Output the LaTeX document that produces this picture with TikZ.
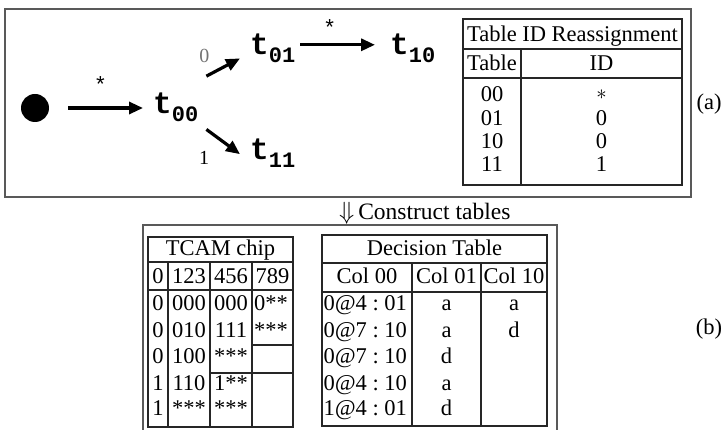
\documentclass[tikz,border=0pt]{standalone}
\usepackage{fontspec}
\setmainfont{Liberation Serif}
\newfontfamily\monofam{Liberation Mono}
\usetikzlibrary{arrows.meta}

% state label: bold typewriter t with a lowered bold index
\newcommand{\tstate}[1]{{\monofam\bfseries\fontsize{31}{33}\selectfont t}\raisebox{-8pt}{\monofam\bfseries\fontsize{22}{24}\selectfont #1}}

\begin{document}
\begin{tikzpicture}[x=1pt,y=-1pt,
  frame/.style={draw=black!65,line width=1.3pt},
  grid/.style={draw=black!85,line width=1.2pt},
  txt/.style={inner sep=0pt,anchor=base,font=\fontsize{22.5}{27}\selectfont},
  txtl/.style={txt,anchor=base west},
  arr/.style={line width=3.2pt,-{Triangle[length=14pt,width=12pt]}},
  star/.style={inner sep=0pt,font=\monofam\fontsize{22}{24}\selectfont},
  edgelbl/.style={inner sep=0pt,font=\fontsize{20}{24}\selectfont},
  tnode/.style={inner sep=0pt,anchor=base west}]
\useasboundingbox (0,0) rectangle (726,430);

% ---------- part (a): automaton ----------
\draw[frame] (5,9) rectangle (691,197);
\node[circle,fill=black,minimum size=28pt,inner sep=0pt] (dot) at (35,108) {};
\node[tnode] (t00) at (153,114) {\tstate{00}};
\node[tnode] (t01) at (250,55) {\tstate{01}};
\node[tnode] (t10) at (390,55) {\tstate{10}};
\node[tnode] (t11) at (250,160) {\tstate{11}};

\draw[arr] ([xshift=19pt]dot.east) -- ([xshift=-10pt]dot.east -| t00.west)
  node[star,pos=0.43,above=14pt] {*};
\draw[arr] ([shift={(8,-17)}]t00.north east) -- ([shift={(-10,-5)}]t01.south west)
  node[edgelbl,text=black!55,pos=0.0,xshift=-2pt,yshift=20pt] {0};
\draw[arr] ([shift={(8,7)}]t00.south east) -- ([shift={(-10,15)}]t11.north west)
  node[edgelbl,pos=1.0,xshift=-36pt,yshift=-4pt] {1};
\draw[arr] ([shift={(5,-4)}]t01.east) -- ([shift={(-15,-4)}]t10.west)
  node[star,midway,xshift=-8pt,above=8pt] {*};

% table ID reassignment
\draw[grid] (463,19) rectangle (682,185);
\draw[grid] (463,49) -- (682,49) (463,78) -- (682,78) (521,49) -- (521,185);
\node[txt] (ttl) at (572.5,42) {Table ID Reassignment};
\node[txt] (hta) at (492,71) {Table};
\node[txt] (hid) at (601.5,71) {ID};
\node[txt] (r1a) at (492,101.5) {00};
\node[inner sep=0pt,font=\fontsize{22.5}{27}\selectfont] (r1b) at (601.5,95) {$\ast$};
\node[txt] (r2a) at (492,125.5) {01};
\node[txt] (r2b) at (601.5,125.5) {0};
\node[txt] (r3a) at (492,148.5) {10};
\node[txt] (r3b) at (601.5,148.5) {0};
\node[txt] (r4a) at (492,171.5) {11};
\node[txt] (r4b) at (601.5,171.5) {1};
\node[txt] (la) at (709,110) {(a)};

% ---------- step between the parts ----------
\node[txtl,font=\fontsize{23.5}{28}\selectfont] (step) at (339,219.5) {$\Downarrow$\,Construct tables};

% ---------- part (b): tables ----------
\draw[frame] (143,432) -- (143,225) -- (557,225) -- (557,432);

% TCAM chip
\draw[grid] (148,237) rectangle (293,427);
\draw[grid] (148,262) -- (293,262) (148,290) -- (293,290);
\draw[grid] (168,262) -- (168,427) (210,262) -- (210,427) (252,262) -- (252,427);
\draw[grid] (252,345) -- (293,345) (210,373) -- (293,373);
\node[txt] (tc) at (220.5,256) {TCAM chip};
\node[txt] (c0) at (158,283.5) {0};
\node[txt] (c1) at (189,283.5) {123};
\node[txt] (c2) at (231,283.5) {456};
\node[txt] (c3) at (272.5,283.5) {789};
\foreach \y/\a/\b/\c/\d [count=\i] in
  {310.5/0/000/000/0**, 337.5/0/010/111/***, 363.5/0/100/***/, 390.5/1/110/1**/, 415.5/1/***/***/}{
  \node[txt] (ta\i) at (158,\y) {\a};
  \node[txt] (tb\i) at (189,\y) {\b};
  \node[txt] (tcc\i) at (231,\y) {\c};
  \node[txt] (td\i) at (271,\y) {\d};
}

% decision table
\draw[grid] (322,235) rectangle (547,426);
\draw[grid] (322,263) -- (547,263) (322,292) -- (547,292);
\draw[grid] (412,263) -- (412,426) (481,263) -- (481,426);
\node[txt] (dt) at (434.5,256) {Decision Table};
\node[txt] (h0) at (367,284) {Col 00};
\node[txt] (h1) at (446.5,284) {Col 01};
\node[txt] (h2) at (514,284) {Col 10};
\foreach \y/\p/\q/\r/\s/\u [count=\i] in
  {310.5/0/4/01/a/a, 337.5/0/7/10/a/d, 363.5/0/7/10/d/, 390.5/0/4/10/a/, 415.5/1/4/01/d/}{
  \node[txtl] (da\i) at (323.5,\y) {\p\textit{@}\q\ :\ \r};
  \node[txt] (db\i) at (446.5,\y) {\s};
  \node[txt] (dc\i) at (514,\y) {\u};
}
\node[txt] (lb) at (709,335) {(b)};
\end{tikzpicture}
\end{document}
